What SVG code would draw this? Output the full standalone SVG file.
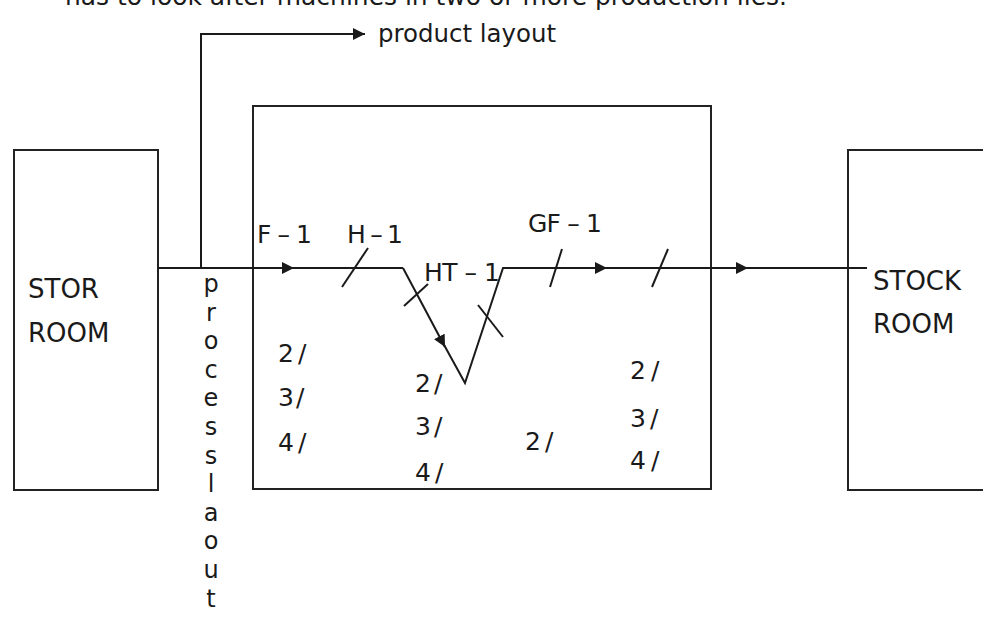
<svg xmlns="http://www.w3.org/2000/svg" width="983" height="617" viewBox="0 0 983 617">
<style>
.box{fill:#fff;stroke:#222;stroke-width:2}
.ln{fill:none;stroke:#1a1a1a;stroke-width:2}
.t{font-family:"DejaVu Sans",Verdana,sans-serif;font-size:24px;fill:#1a1a1a}
.big{font-size:26px}
.lb{font-size:25px}
.v{font-family:"DejaVu Sans",Verdana,sans-serif;font-size:24px;fill:#1a1a1a;text-anchor:middle}
</style>
<defs>
<marker id="ah" markerUnits="userSpaceOnUse" markerWidth="14" markerHeight="12" refX="12" refY="6" orient="auto">
<path d="M0,0 L12,6 L0,12 z" fill="#1a1a1a"/>
</marker>
</defs>
<text class="t" x="65" y="5" textLength="722" lengthAdjust="spacingAndGlyphs">has to look after machines in two or more production lies.</text>
<g id="stor">
<rect class="box" x="14" y="150" width="144" height="340"/>
<text class="t big" x="28" y="298">STOR</text>
<text class="t big" x="28" y="342">ROOM</text>
</g>
<g id="main">
<rect class="box" x="253" y="106" width="458" height="383"/>
</g>
<g id="stock">
<rect class="box" x="848" y="150" width="140" height="340"/>
<text class="t big" x="873" y="290">STOCK</text>
<text class="t big" x="873" y="333">ROOM</text>
</g>
<g id="connectors">
<polyline class="ln" points="201,268 201,34 365,34" marker-end="url(#ah)"/>
<line class="ln" x1="158" y1="268" x2="294" y2="268" marker-end="url(#ah)"/>
<line class="ln" x1="290" y1="268" x2="403" y2="268"/>
<line class="ln" x1="403" y1="268" x2="445" y2="347" marker-end="url(#ah)"/>
<polyline class="ln" points="443,343 465,383 503,268 607,268"/>
<line class="ln" x1="560" y1="268" x2="607" y2="268" marker-end="url(#ah)"/>
<line class="ln" x1="603" y1="268" x2="748" y2="268" marker-end="url(#ah)"/>
<line class="ln" x1="744" y1="268" x2="867" y2="268"/>
<line class="ln" x1="342" y1="287" x2="368" y2="248"/>
<line class="ln" x1="404" y1="306" x2="428" y2="284"/>
<line class="ln" x1="478" y1="305" x2="503" y2="337"/>
<line class="ln" x1="550" y1="287" x2="562" y2="249"/>
<line class="ln" x1="652" y1="287" x2="668" y2="249"/>
</g>
<g id="labels">
<text class="t" x="378" y="42" font-size="26" textLength="178" lengthAdjust="spacingAndGlyphs">product layout</text>
<text class="t lb" x="257" y="243" textLength="55">F – 1</text>
<text class="t lb" x="347" y="243" textLength="56">H – 1</text>
<text class="t lb" x="424" y="281" textLength="76">HT – 1</text>
<text class="t lb" x="528" y="232" textLength="74">GF – 1</text>
<text class="t lb" x="278" y="362" letter-spacing="4">2/</text>
<text class="t lb" x="278" y="406" letter-spacing="2">3/</text>
<text class="t lb" x="278" y="451" letter-spacing="4">4/</text>
<text class="t lb" x="415" y="392" letter-spacing="3">2/</text>
<text class="t lb" x="415" y="435" letter-spacing="3">3/</text>
<text class="t lb" x="415" y="481" letter-spacing="4">4/</text>
<text class="t lb" x="525" y="450" letter-spacing="4">2/</text>
<text class="t lb" x="630" y="379" letter-spacing="5">2/</text>
<text class="t lb" x="630" y="427" letter-spacing="4">3/</text>
<text class="t lb" x="630" y="469" letter-spacing="5">4/</text>
</g>
<g id="process-layout">
<text class="v" x="211" y="292">p</text>
<text class="v" x="211" y="320.6">r</text>
<text class="v" x="211" y="349.2">o</text>
<text class="v" x="211" y="377.8">c</text>
<text class="v" x="211" y="406.4">e</text>
<text class="v" x="211" y="435">s</text>
<text class="v" x="211" y="463.6">s</text>
<text class="v" x="211" y="492.2">l</text>
<text class="v" x="211" y="520.8">a</text>
<text class="v" x="211" y="549.4">o</text>
<text class="v" x="211" y="578">u</text>
<text class="v" x="211" y="606.6">t</text>
</g>
</svg>
